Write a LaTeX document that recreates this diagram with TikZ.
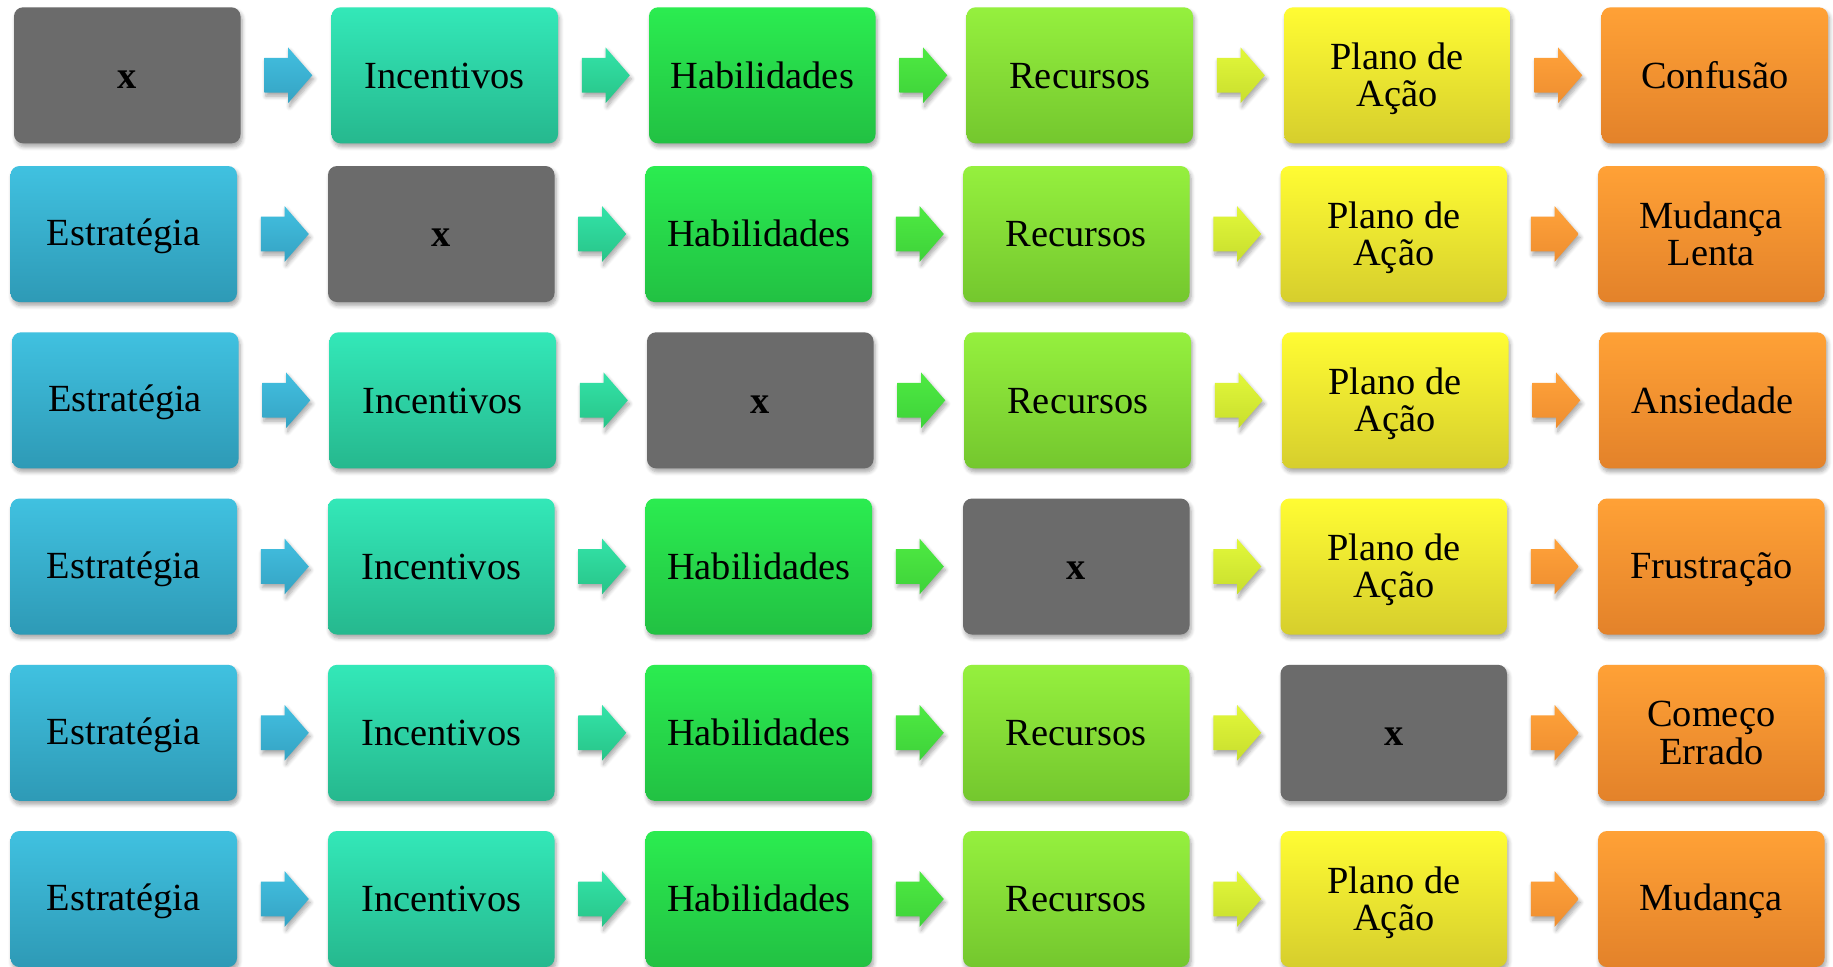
\documentclass[tikz,border=0pt]{standalone}
\usepackage{fontspec}
\setmainfont{Liberation Serif}
\usetikzlibrary{shapes.arrows,shadows.blur,calc}

% box fills (top / bottom of the vertical gradient)
\definecolor{blueT}{HTML}{40C1E0}\definecolor{blueB}{HTML}{2E9AB6}
\definecolor{tealT}{HTML}{33E8B8}\definecolor{tealB}{HTML}{26B88E}
\definecolor{grnT}{HTML}{2BEC50}\definecolor{grnB}{HTML}{22C143}
\definecolor{limeT}{HTML}{95F03E}\definecolor{limeB}{HTML}{74C72E}
\definecolor{yelT}{HTML}{FFFC33}\definecolor{yelB}{HTML}{D6CE2D}
\definecolor{orgT}{HTML}{FFA136}\definecolor{orgB}{HTML}{E3822A}
\definecolor{grayx}{HTML}{6B6B6B}
% arrow fills
\definecolor{a0T}{HTML}{42BFE0}\definecolor{a0B}{HTML}{35A3C3}
\definecolor{a1T}{HTML}{33E3A8}\definecolor{a1B}{HTML}{28C488}
\definecolor{a2T}{HTML}{4EEA42}\definecolor{a2B}{HTML}{3ED23A}
\definecolor{a3T}{HTML}{E2F83A}\definecolor{a3B}{HTML}{C8DE2E}
\definecolor{a4T}{HTML}{FFA23A}\definecolor{a4B}{HTML}{EE8E30}

% fixed line boxes so every label sits at the same height
\newcommand\lnstrut{\rule[-3pt]{0pt}{18.7pt}}
% for two-line labels: spans both lines, measured from the last baseline
\newcommand\pairstrut{\rule[-5pt]{0pt}{41.4pt}}

\tikzset{
  softshadow/.style={blur shadow={shadow xshift=0.8pt, shadow yshift=-1.8pt,
      shadow blur radius=2pt, shadow blur steps=6, shadow opacity=35}},
  box/.style={rounded corners=4.5pt, minimum width=113.25pt, minimum height=68pt,
      inner sep=0pt, align=center, text=black, softshadow,
      font=\fontsize{19.2}{18.7}\selectfont,
      execute at begin node=\lnstrut, execute at end node=\lnstrut},
  twoline/.style={execute at begin node=\pairstrut},
  c0/.style={box, top color=blueT, bottom color=blueB},
  c1/.style={box, top color=tealT, bottom color=tealB},
  c2/.style={box, top color=grnT, bottom color=grnB},
  c3/.style={box, top color=limeT, bottom color=limeB},
  c4/.style={box, top color=yelT, bottom color=yelB},
  c5/.style={box, top color=orgT, bottom color=orgB},
  xbox/.style={box, fill=grayx, font=\fontsize{19.2}{18.7}\selectfont\bfseries},
  flow/.style={single arrow, single arrow head extend=5.25pt,
      single arrow tip angle=98, single arrow head indent=0pt,
      minimum height=24pt, minimum width=0pt, inner xsep=0pt, inner ysep=8.5pt,
      anchor=tail, softshadow},
  a0/.style={flow, top color=a0T, bottom color=a0B},
  a1/.style={flow, top color=a1T, bottom color=a1B},
  a2/.style={flow, top color=a2T, bottom color=a2B},
  a3/.style={flow, top color=a3T, bottom color=a3B},
  a4/.style={flow, top color=a4T, bottom color=a4B},
}

% one box: row, column, style, text
\newcommand\mkbox[4]{%
  \node[#3] (r#1c#2) at ({123.75+\rowdx+317.5*#2}, {\rowtop+68}) {#4};}
% the five arrows of a row, each starting just right of its box
\newcommand\mkflows[1]{%
  \foreach \c in {0,...,4}
    \node[a\c] (r#1a\c) at ($(r#1c\c.east)+(23,0)$) {};}

\begin{document}
\begin{tikzpicture}[x=0.5pt, y=-0.5pt]
\useasboundingbox (0,0) rectangle (1833,966);

% row 0
\def\rowdx{3.5}\def\rowtop{7.3}
\mkbox{0}{0}{xbox}{x}
\mkbox{0}{1}{c1}{Incentivos}
\mkbox{0}{2}{c2}{Habilidades}
\mkbox{0}{3}{c3}{Recursos}
\mkbox{0}{4}{c4,twoline}{Plano de\\Ação}
\mkbox{0}{5}{c5}{Confusão}
\mkflows{0}

% row 1
\def\rowdx{0}\def\rowtop{166}
\mkbox{1}{0}{c0}{Estratégia}
\mkbox{1}{1}{xbox}{x}
\mkbox{1}{2}{c2}{Habilidades}
\mkbox{1}{3}{c3}{Recursos}
\mkbox{1}{4}{c4,twoline}{Plano de\\Ação}
\mkbox{1}{5}{c5,twoline}{Mudança\\Lenta}
\mkflows{1}

% row 2
\def\rowdx{1.5}\def\rowtop{332.3}
\mkbox{2}{0}{c0}{Estratégia}
\mkbox{2}{1}{c1}{Incentivos}
\mkbox{2}{2}{xbox}{x}
\mkbox{2}{3}{c3}{Recursos}
\mkbox{2}{4}{c4,twoline}{Plano de\\Ação}
\mkbox{2}{5}{c5}{Ansiedade}
\mkflows{2}

% row 3
\def\rowdx{0}\def\rowtop{498.5}
\mkbox{3}{0}{c0}{Estratégia}
\mkbox{3}{1}{c1}{Incentivos}
\mkbox{3}{2}{c2}{Habilidades}
\mkbox{3}{3}{xbox}{x}
\mkbox{3}{4}{c4,twoline}{Plano de\\Ação}
\mkbox{3}{5}{c5}{Frustração}
\mkflows{3}

% row 4
\def\rowdx{0}\def\rowtop{664.8}
\mkbox{4}{0}{c0}{Estratégia}
\mkbox{4}{1}{c1}{Incentivos}
\mkbox{4}{2}{c2}{Habilidades}
\mkbox{4}{3}{c3}{Recursos}
\mkbox{4}{4}{xbox}{x}
\mkbox{4}{5}{c5,twoline}{Começo\\Errado}
\mkflows{4}

% row 5
\def\rowdx{0}\def\rowtop{831}
\mkbox{5}{0}{c0}{Estratégia}
\mkbox{5}{1}{c1}{Incentivos}
\mkbox{5}{2}{c2}{Habilidades}
\mkbox{5}{3}{c3}{Recursos}
\mkbox{5}{4}{c4,twoline}{Plano de\\Ação}
\mkbox{5}{5}{c5}{Mudança}
\mkflows{5}
\end{tikzpicture}
\end{document}
